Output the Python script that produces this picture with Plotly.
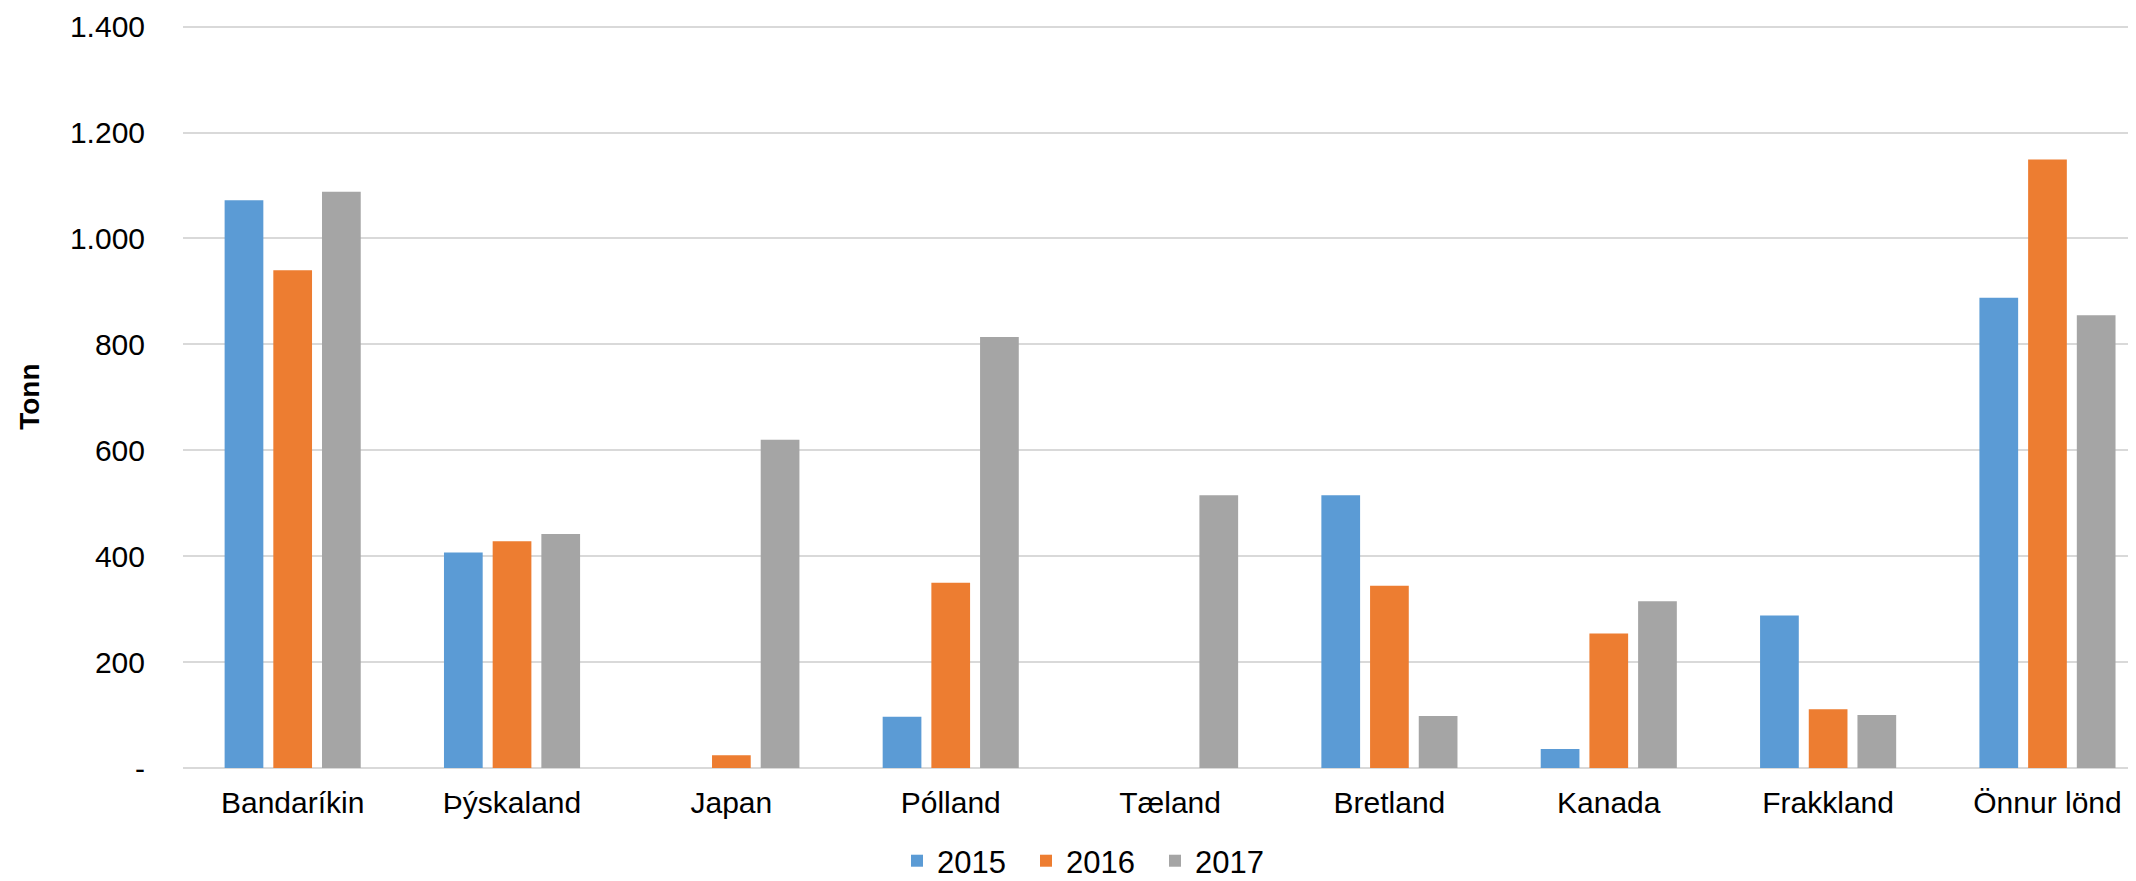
import plotly.graph_objects as go

categories = ["Bandaríkin", "Þýskaland", "Japan", "Pólland", "Tæland",
              "Bretland", "Kanada", "Frakkland", "Önnur lönd"]
series_names = ["2015", "2016", "2017"]
values_2015 = [1072, 407, 0, 97, 0, 515, 36, 288, 888]
values_2016 = [940, 428, 24, 350, 0, 344, 254, 111, 1149]
values_2017 = [1088, 442, 620, 814, 515, 98, 315, 100, 855]
colors = ["#5B9BD5", "#ED7D31", "#A5A5A5"]

y_tickvals = [0, 200, 400, 600, 800, 1000, 1200, 1400]
y_ticktext = ["-", "200", "400", "600", "800", "1.000", "1.200", "1.400"]

# page has an 8px body margin; figure is offset by it
OFF = 8
W, H = 2136 - OFF, 881 - OFF
Y0, Y1400 = 768 - OFF, 27 - OFF          # pixel rows of 0 and 1400 in figure coords
YMAX = 1403
ppu = (Y0 - Y1400) / 1400.0
MT = Y1400 - (YMAX - 1400) * ppu
MB = H - Y0
ML, MR = 183 - OFF, 0
FONT = "Liberation Sans"

fig = go.Figure()
for name, vals, col in zip(series_names, [values_2015, values_2016, values_2017], colors):
    fig.add_trace(go.Bar(x=categories, y=vals, name=name,
                         marker=dict(color=col, line=dict(width=0))))

plot_w = W - ML - MR
plot_h = H - MT - MB
cat_w = 219.35
x_end = plot_w / cat_w - 0.5

fig.update_layout(
    width=W, height=H,
    margin=dict(l=ML, r=MR, t=MT, b=MB, pad=0, autoexpand=False),
    paper_bgcolor="white", plot_bgcolor="white",
    barmode="group", bargap=0.334, bargroupgap=0.205,
    font=dict(family=FONT, size=30, color="#000000"),
    showlegend=True,
    legend=dict(orientation="h", x=(897 - OFF - ML) / plot_w, xanchor="left",
                y=-(H + 7 - Y0) / plot_h, yanchor="bottom",
                font=dict(family=FONT, size=31, color="#000000"),
                itemwidth=30, entrywidth=84, entrywidthmode="pixels",
                traceorder="normal", bgcolor="rgba(0,0,0,0)"),
    xaxis=dict(range=[-0.5, x_end], showgrid=False, showline=False,
               zeroline=False, ticks="", ticklabelstandoff=14,
               tickfont=dict(family=FONT, size=30, color="#000000")),
    yaxis=dict(range=[0, YMAX], tickvals=y_tickvals, ticktext=y_ticktext,
               showgrid=True, gridcolor="#D9D9D9", gridwidth=1.5,
               zeroline=True, zerolinecolor="#D9D9D9", zerolinewidth=2,
               showline=False, ticks="", ticklabelstandoff=37,
               tickfont=dict(family=FONT, size=30, color="#000000")),
    annotations=[dict(text="<b>Tonn</b>", textangle=-90, showarrow=False,
                      xref="paper", yref="paper",
                      x=(30 - OFF - ML) / plot_w, y=(Y0 - (397 - OFF)) / plot_h,
                      xanchor="center", yanchor="middle",
                      font=dict(family=FONT, size=28, color="#000000"))],
)

fig.write_html("out.html")
